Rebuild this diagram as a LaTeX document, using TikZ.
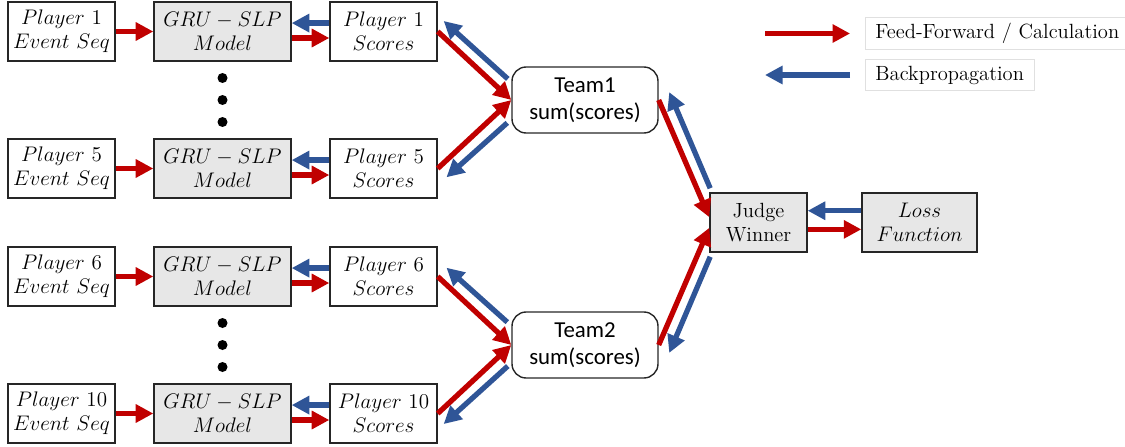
\documentclass[tikz,border=0pt]{standalone}
\usepackage{fontspec}
\newfontfamily\teamfont{Carlito}
\usetikzlibrary{positioning,arrows.meta,calc}
\definecolor{ffred}{RGB}{192,0,0}
\definecolor{bpblue}{RGB}{47,85,151}
\definecolor{boxgray}{RGB}{231,231,231}

\begin{document}
\begin{tikzpicture}[
    x=0.02cm, y=-0.02cm,
    every node/.style={font=\fontsize{11.7}{13.8}\selectfont, align=center},
    box/.style={rectangle, draw=black!85, line width=0.8pt, minimum width=2.14cm, minimum height=1.18cm, inner sep=1pt},
    model/.style={box, fill=boxgray, minimum width=2.74cm},
    team/.style={box, rounded corners=8pt, minimum width=2.92cm, minimum height=1.32cm, font=\teamfont\fontsize{13}{15.5}\selectfont},
    ff/.style={draw=ffred, line width=3pt, -{Triangle[length=10pt,width=10pt]}},
    bp/.style={draw=bpblue, line width=3pt, -{Triangle[length=10pt,width=10pt]}},
    legend/.style={draw=black!12, line width=0.5pt, inner xsep=5.7pt, minimum height=0.58cm, anchor=west},
    dot/.style={circle, fill=black, inner sep=0pt, minimum size=0.2cm}
]
\useasboundingbox (0,0) rectangle (1125,446);

% player rows
\foreach \p/\yy in {1/31.5, 5/168.5, 6/276.5, 10/413.5} {
    \node[box] (ev\p) at (61.5,\yy) {$Player\ \p$\\$Event\ Seq$};
    \node[model] (gru\p) at (222.5,\yy) {$GRU-SLP$\\$Model$};
    \node[box] (sc\p) at (383.5,\yy) {$Player\ \p$\\$Scores$};
    \draw[ff] (ev\p) -- (gru\p);
    \draw[ff] ([yshift=-3.7pt]gru\p.east) -- ([yshift=-3.7pt]sc\p.west);
    \draw[bp] ([yshift=4.8pt]sc\p.west) -- ([yshift=4.8pt]gru\p.east);
}
\foreach \d in {78,100,122,323,345,367}
    \node[dot] (dot\d) at (222.5,\d) {};

% teams, judge, loss
\node[team] (team1) at (585,100) {Team1\\sum(scores)};
\node[team] (team2) at (585,345) {Team2\\sum(scores)};
\node[box, fill=boxgray, minimum width=1.94cm] (judge) at (758.5,222.5) {Judge\\Winner};
\node[model, minimum width=2.3cm] (loss) at (919.5,222.5) {$Loss$\\$Function$};

% scores to teams
\draw[ff] (sc1.east) -- (team1.west);
\draw[bp] ([xshift=-2pt,yshift=12pt]team1.west) -- ([xshift=3.4pt,yshift=6pt]sc1.east);
\draw[ff] (sc5.east) -- (team1.west);
\draw[bp] ([xshift=-2.3pt,yshift=-13pt]team1.west) -- ([xshift=5pt,yshift=-5pt]sc5.east);
\draw[ff] (sc6.east) -- (team2.west);
\draw[bp] ([xshift=-2.3pt,yshift=13pt]team2.west) -- ([xshift=5pt,yshift=5pt]sc6.east);
\draw[ff] (sc10.east) -- (team2.west);
\draw[bp] ([xshift=-2pt,yshift=-12pt]team2.west) -- ([xshift=3.4pt,yshift=-6pt]sc10.east);

% teams to judge
\draw[ff] (team1.east) -- ([yshift=3pt]judge.west);
\draw[bp] ([xshift=0.5pt,yshift=2.3pt]judge.north west) -- ([xshift=6pt,yshift=4.5pt]team1.east);
\draw[ff] (team2.east) -- ([yshift=-3pt]judge.west);
\draw[bp] ([xshift=0.5pt,yshift=-2.3pt]judge.south west) -- ([xshift=6pt,yshift=-4.5pt]team2.east);

% judge and loss
\draw[bp] ([yshift=6.7pt]loss.west) -- ([yshift=6.7pt]judge.east);
\draw[ff] ([yshift=-3.9pt]judge.east) -- ([yshift=-3.9pt]loss.west);

% legend
\node[legend] (lgff) at (865,33.5) {Feed-Forward / Calculation};
\node[legend] (lgbp) at (865,75) {Backpropagation};
\coordinate (lgffstart) at (765,33.5);
\coordinate (lgbpend) at (765,75);
\draw[ff] (lgffstart) -- ([xshift=-8.5pt]lgff.west);
\draw[bp] ([xshift=-8.5pt]lgbp.west) -- (lgbpend);
\end{tikzpicture}
\end{document}
